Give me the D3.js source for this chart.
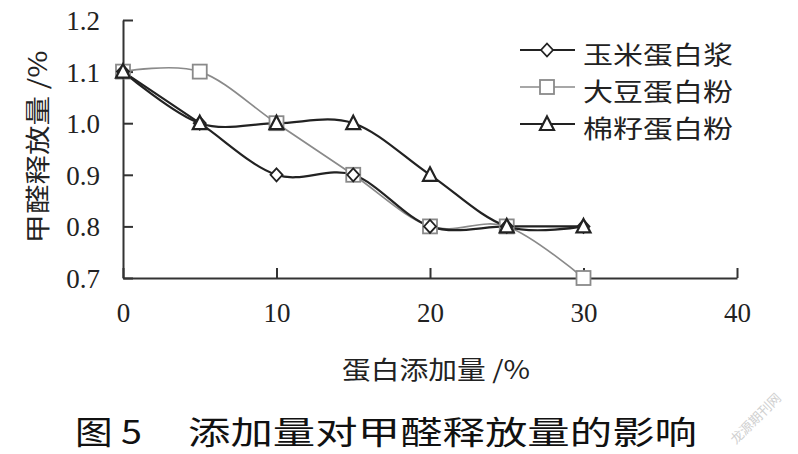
<!DOCTYPE html>
<html><head><meta charset="utf-8">
<script src="https://cdn.jsdelivr.net/npm/d3@7"></script>
<style>
html,body{margin:0;padding:0;background:#fff;}
svg{display:block;}
</style></head>
<body>
<svg id="chart" width="798" height="454"></svg>
<script>
const xValues = [0, 5, 10, 15, 20, 25, 30];
const cornSeries = [1.1, 1.0, 0.9, 0.9, 0.8, 0.8, 0.8];     // 玉米蛋白浆
const soySeries = [1.1, 1.1, 1.0, 0.9, 0.8, 0.8, 0.7];      // 大豆蛋白粉
const cottonSeries = [1.1, 1.0, 1.0, 1.0, 0.9, 0.8, 0.8];   // 棉籽蛋白粉
const seriesNames = ["玉米蛋白浆", "大豆蛋白粉", "棉籽蛋白粉"];
const xTicks = [0, 10, 20, 30, 40];
const yTicks = [0.7, 0.8, 0.9, 1.0, 1.1, 1.2];
const xTitle = "蛋白添加量 /%";
const yTitle = "甲醛释放量 /%";
const captionFig = "图 5";
const captionText = "添加量对甲醛释放量的影响";
const watermark = "龙源期刊网";

const svg = d3.select("#chart");
const x = d3.scaleLinear().domain([0, 40]).range([123, 737]);
const y = d3.scaleLinear().domain([0.7, 1.2]).range([278, 20]);

const serif = "'Liberation Serif','Times New Roman',serif";
const cjk = "'Noto Sans CJK SC','Noto Sans CJK JP',sans-serif";

// axes
const xAxis = d3.axisBottom(x).tickValues(xTicks).tickSizeInner(-10).tickSizeOuter(0).tickPadding(25).tickFormat(d3.format("d"));
const yAxis = d3.axisLeft(y).tickValues(yTicks).tickSizeInner(-10).tickSizeOuter(0).tickPadding(23).tickFormat(d3.format(".1f"));

const gx = svg.append("g").attr("transform", `translate(0,${y(0.7)})`).call(xAxis);
const gy = svg.append("g").attr("transform", `translate(${x(0)},0)`).call(yAxis);
[gx, gy].forEach(g => {
  g.select(".domain").attr("stroke", "#333").attr("stroke-width", 2);
  g.selectAll(".tick line").attr("stroke", "#333").attr("stroke-width", 2);
  g.selectAll(".tick text").attr("fill", "#222").style("font-family", serif).style("font-size", "27px");
});
gy.selectAll(".tick text").attr("dy", "0.35em");

// series
const series = [
  {name: seriesNames[1], vals: soySeries, color: "#8a8a8a", width: 1.7, shape: "square"},
  {name: seriesNames[0], vals: cornSeries, color: "#222", width: 2.2, shape: "diamond"},
  {name: seriesNames[2], vals: cottonSeries, color: "#222", width: 2.2, shape: "triangle"}
];
const line = d3.line().x(d => x(d[0])).y(d => y(d[1])).curve(d3.curveCatmullRom.alpha(0));

function marker(g, shape, color) {
  if (shape === "square") {
    g.append("rect").attr("x", -7).attr("y", -7).attr("width", 14).attr("height", 14)
      .attr("fill", "#fff").attr("stroke", color).attr("stroke-width", 1.8);
  } else if (shape === "diamond") {
    g.append("path").attr("d", "M0,-6.5L6,0L0,6.5L-6,0Z")
      .attr("fill", "#fff").attr("stroke", color).attr("stroke-width", 1.8);
  } else {
    g.append("path").attr("d", "M0,-7.5L7,6L-7,6Z")
      .attr("fill", "#fff").attr("stroke", color).attr("stroke-width", 2.2);
  }
}

series.forEach(s => {
  const pts = xValues.map((v, i) => [v, s.vals[i]]);
  svg.append("path").datum(pts).attr("d", line).attr("fill", "none")
    .attr("stroke", s.color).attr("stroke-width", s.width);
});
series.forEach(s => {
  xValues.forEach((v, i) => {
    const g = svg.append("g").attr("transform", `translate(${x(v)},${y(s.vals[i])})`);
    marker(g, s.shape, s.color);
  });
});

// legend
const legendItems = [
  {name: seriesNames[0], color: "#222", width: 2.2, shape: "diamond"},
  {name: seriesNames[1], color: "#8a8a8a", width: 1.7, shape: "square"},
  {name: seriesNames[2], color: "#222", width: 2.2, shape: "triangle"}
];
const legendY = [50, 87, 124];
legendItems.forEach((it, i) => {
  const g = svg.append("g").attr("transform", `translate(0,${legendY[i]})`);
  g.append("line").attr("x1", 520).attr("x2", 575).attr("y1", 0).attr("y2", 0)
    .attr("stroke", it.color).attr("stroke-width", it.width);
  const m = g.append("g").attr("transform", "translate(547,0)");
  marker(m, it.shape, it.color);
  g.append("text").attr("x", 583).attr("y", 3).attr("dominant-baseline", "central")
    .attr("textLength", 150).attr("lengthAdjust", "spacingAndGlyphs")
    .style("font-family", cjk).style("font-size", "25px").attr("fill", "#222").text(it.name);
});

// axis titles
svg.append("text").attr("x", 342).attr("y", 368).attr("dominant-baseline", "central")
  .attr("textLength", 188).attr("lengthAdjust", "spacingAndGlyphs")
  .style("font-family", cjk).style("font-size", "25px").attr("fill", "#222").text(xTitle);
svg.append("text").attr("transform", "translate(36,147) rotate(-90)")
  .attr("text-anchor", "middle").attr("dominant-baseline", "central")
  .attr("textLength", 193).attr("lengthAdjust", "spacingAndGlyphs")
  .style("font-family", cjk).style("font-size", "25px").attr("fill", "#222").text(yTitle);

// caption
svg.append("text").attr("x", 75).attr("y", 430).attr("dominant-baseline", "central")
  .attr("textLength", 67).attr("lengthAdjust", "spacingAndGlyphs")
  .style("font-family", cjk).style("font-size", "32px").attr("fill", "#111").text(captionFig);
svg.append("text").attr("x", 188).attr("y", 430).attr("dominant-baseline", "central")
  .attr("textLength", 509).attr("lengthAdjust", "spacingAndGlyphs")
  .style("font-family", cjk).style("font-size", "32px").attr("fill", "#111").text(captionText);

// watermark
svg.append("text").attr("transform", "translate(755,418) rotate(-45)")
  .attr("text-anchor", "middle").attr("dominant-baseline", "central")
  .style("font-family", cjk).style("font-size", "13px").attr("fill", "#d0d0d0").text(watermark);
</script>
</body></html>
